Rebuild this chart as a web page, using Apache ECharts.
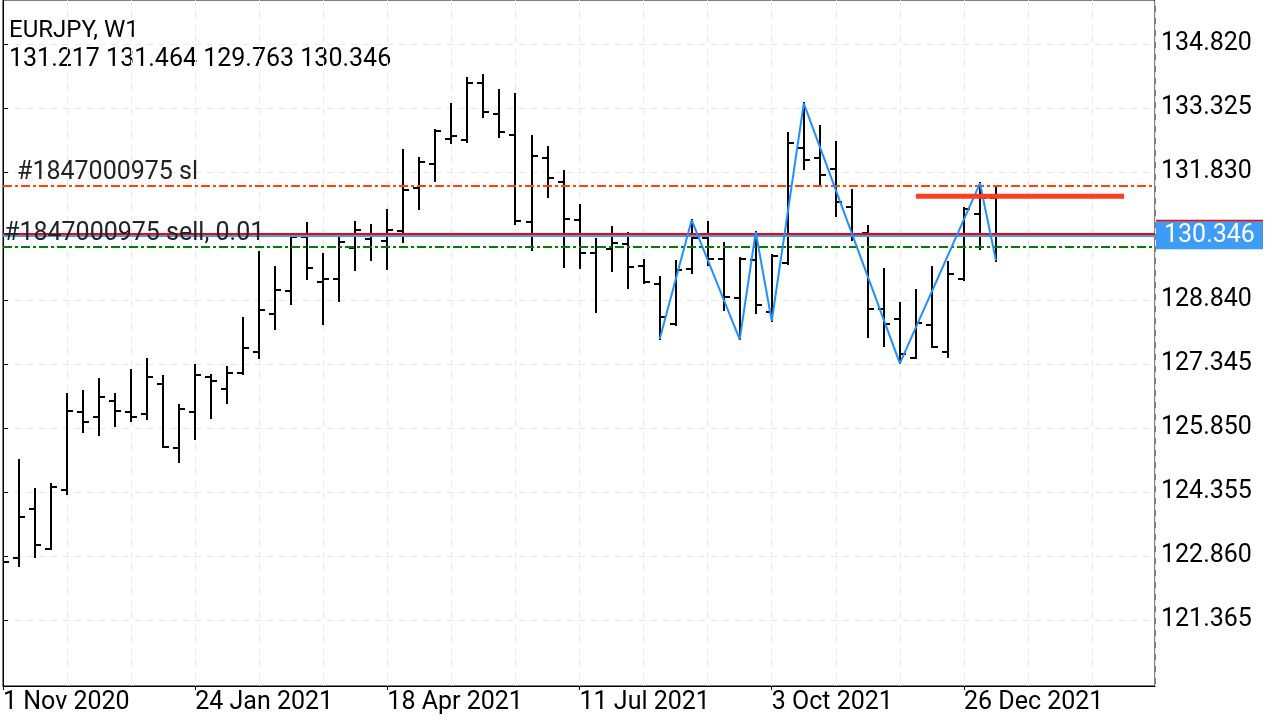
<!DOCTYPE html>
<html>
<head>
<meta charset="utf-8">
<title>EURJPY, W1</title>
<script src="https://cdn.jsdelivr.net/npm/echarts@6.0.0/dist/echarts.min.js"></script>
<style>
html,body{margin:0;padding:0;background:#fff;}
#chart{width:1280px;height:720px;}
</style>
</head>
<body>
<div id="chart"></div>
<script>
// weekly bars, index 0 = week of 1 Nov 2020
var opens  = [122.814,122.821,123.965,123.024,124.402,126.231,126.107,126.488,126.217,126.177,
              126.871,125.383,126.231,127.049,126.768,127.142,127.633,128.520,129.058,130.305,
              129.268,129.331,130.062,130.265,130.218,130.459,131.464,132.017,132.601,132.578,
              133.916,133.178,132.702,130.669,132.164,131.597,130.709,129.931,130.039,130.141,
              129.642,129.221,128.280,129.571,130.296,129.805,128.894,129.775,128.567,129.705,
              132.398,132.150,131.893,131.020,130.412,128.630,128.403,127.492,128.249,127.626,
              129.331,130.842,131.217];
var highs  = [122.930,125.103,124.418,124.535,126.645,126.715,126.995,126.645,127.205,127.455,
              127.065,126.388,127.322,127.095,127.268,128.413,129.962,129.604,130.319,130.632,
              129.915,130.282,130.655,130.592,130.943,132.344,132.150,132.804,133.419,134.019,
              134.096,133.746,133.652,132.671,132.407,131.854,131.048,130.258,130.538,130.398,
              129.775,129.385,129.751,130.709,130.655,130.165,129.814,130.429,129.903,132.734,
              133.435,132.905,132.531,131.410,130.569,129.564,128.763,129.074,129.618,129.721,
              130.989,131.566,131.464];
var lows   = [122.627,122.627,122.830,123.017,124.302,125.764,125.694,125.904,126.021,126.053,
              125.399,125.063,125.586,126.091,126.427,127.123,127.492,128.170,128.754,129.324,
              128.287,128.824,129.548,129.782,129.564,130.202,130.973,131.627,132.501,132.524,
              133.122,132.655,130.609,130.008,131.253,129.604,129.599,128.567,129.525,129.128,
              129.230,127.922,128.268,129.478,129.651,128.607,127.922,128.530,128.350,129.693,
              131.907,131.527,130.809,130.242,127.969,127.766,127.362,127.485,127.735,127.502,
              129.308,130.025,129.763];
var closes = [122.727,123.778,123.117,124.465,126.254,125.997,126.581,126.254,126.114,127.049,
              125.413,126.287,127.081,126.948,127.142,127.726,128.614,129.081,130.305,129.588,
              129.331,130.188,130.482,130.328,130.482,131.410,132.071,132.795,132.671,133.916,
              133.232,132.772,130.693,132.204,131.697,130.732,129.945,130.085,130.172,129.611,
              129.268,128.450,129.541,130.296,129.791,128.917,129.791,128.723,129.875,132.501,
              132.118,131.760,131.137,130.335,128.637,128.280,127.579,128.296,127.742,129.441,
              130.973,131.217,130.346];

// x labels every 12 weeks
var xLabels = ['1 Nov 2020','24 Jan 2021','18 Apr 2021','11 Jul 2021','3 Oct 2021','26 Dec 2021'];
var yTicks  = [121.365,122.860,124.355,125.850,127.345,128.840,130.335,131.830,133.325,134.820];
var yLabels = [121.365,122.860,124.355,125.850,127.345,128.840,131.830,133.325,134.820];

// zigzag pivots
var zigIdx = [41,43,46,47,48,50,56,61,62];
var zigVal = [127.922,130.709,127.922,130.429,128.350,133.435,127.362,131.566,129.763];

// order levels
var slPrice = 131.508;
var sellPrice = 130.394;
var bidPrice = 130.346;
var tpPrice = 130.085;
var boxPrice = 131.263, boxFrom = 57, boxTo = 70;

var header = ['EURJPY, W1', '131.217 131.464 129.763 130.346'];
var ticket = '#1847000975';

var FONT = 'Roboto';

var chart = echarts.init(document.getElementById('chart'));

var barData = [];
for (var i = 0; i < opens.length; i++) {
	barData.push([i, opens[i], highs[i], lows[i], closes[i]]);
}
var zigData = [];
for (var j = 0; j < zigIdx.length; j++) {
	zigData.push([zigIdx[j], zigVal[j]]);
}

function renderBar(params, api) {
	var i = api.value(0);
	var o = api.coord([i, api.value(1)]);
	var h = api.coord([i, api.value(2)]);
	var l = api.coord([i, api.value(3)]);
	var c = api.coord([i, api.value(4)]);
	var x = Math.round(h[0]);
	var st = {stroke: '#000', lineWidth: 2};
	return {
		type: 'group',
		children: [
			{type: 'line', shape: {x1: x, y1: Math.round(h[1]) - 1, x2: x, y2: Math.round(l[1]) + 1}, style: st},
			{type: 'line', shape: {x1: x - 6, y1: Math.round(o[1]), x2: x, y2: Math.round(o[1])}, style: st},
			{type: 'line', shape: {x1: x, y1: Math.round(c[1]), x2: x + 6, y2: Math.round(c[1])}, style: st}
		]
	};
}

function levelLine(val, color, width, type) {
	return {
		silent: true,
		symbol: ['none', 'none'],
		data: [{yAxis: val}],
		lineStyle: {color: color, width: width, type: type},
		label: {show: false}
	};
}

var dashDot = [9, 3, 3, 3];

var option = {
	animation: false,
	backgroundColor: '#fff',
	textStyle: {fontFamily: FONT},
	grid: {left: 2, right: 125, top: 0, bottom: 34, show: true, borderColor: '#000', borderWidth: 1, backgroundColor: 'transparent'},
	xAxis: [
		{
			type: 'value', min: 0, max: 71.93, interval: 12,
			axisLine: {show: true, lineStyle: {color: '#000', width: 1}},
			axisTick: {show: true, length: 4, lineStyle: {color: '#000'}},
			axisLabel: {
				show: true, align: 'left', margin: 4, fontSize: 25, color: '#000', fontFamily: FONT,
				showMaxLabel: false,
				formatter: function (v) {
					if (Math.abs(v % 12) < 1e-6) { return xLabels[Math.round(v / 12)] || ''; }
					return '';
				}
			},
			splitLine: {show: false}
		},
		{
			type: 'value', min: 0, max: 71.93, interval: 4, position: 'top',
			axisLine: {show: false}, axisTick: {show: false}, axisLabel: {show: false},
			splitLine: {show: true, lineStyle: {color: '#e8e8e8', width: 1, type: [6, 6]}}
		}
	],
	yAxis: {
		type: 'value', position: 'right', min: 119.824, max: 135.848, scale: true,
		axisLine: {show: true, lineStyle: {color: '#000'}},
		axisTick: {show: true, length: 5, customValues: yTicks, lineStyle: {color: '#000'}},
		axisLabel: {
			show: true, customValues: yLabels, margin: 6, fontSize: 25, color: '#000', fontFamily: FONT,
			formatter: function (v) { return v.toFixed(3); }
		},
		splitLine: {show: true, lineStyle: {color: '#e8e8e8', width: 1, type: [6, 6]}}
	},
	graphic: [
		{type: 'text', left: 9, top: 19, style: {text: header[0], font: '24px Roboto', fill: '#000'}},
		{type: 'text', left: 9, top: 47, style: {text: header[1], font: '25px Roboto', fill: '#000'}}
	],
	series: [
		{
			// order labels, drawn under the lines
			type: 'line', data: [], z: 1,
			markLine: {
				silent: true, symbol: ['none', 'none'],
				lineStyle: {color: 'rgba(0,0,0,0)', width: 1},
				data: [
					{yAxis: slPrice, label: {show: true, position: 'insideStartTop', formatter: ticket + ' sl', distance: [14, 0], color: '#222', fontSize: 25, fontFamily: FONT}},
					{yAxis: sellPrice, label: {show: true, position: 'insideStart', formatter: ticket + ' sell, 0.01', distance: [1, 0], color: '#222', fontSize: 25, fontFamily: FONT}}
				]
			}
		},
		{
			type: 'custom', z: 2,
			renderItem: renderBar,
			encode: {x: 0, y: [1, 2, 3, 4]},
			data: barData,
			clip: true
		},
		{type: 'line', data: [], z: 3, markLine: levelLine(slPrice, '#ff4500', 2, dashDot)},
		{type: 'line', data: [], z: 3, markLine: levelLine(tpPrice, '#008000', 2, dashDot)},
		{
			type: 'line', data: [], z: 4,
			markLine: {
				silent: true, symbol: ['none', 'none'],
				data: [{yAxis: sellPrice}],
				lineStyle: {color: '#ff0000', width: 2, type: 'solid'},
				label: {show: true, position: 'end', distance: 1, formatter: '130.394', color: '#ff0000', backgroundColor: '#ff0000', fontSize: 25, fontFamily: FONT, padding: [1, 8], lineHeight: 26}
			}
		},
		{
			type: 'line', data: [], z: 5,
			markLine: {
				silent: true, symbol: ['none', 'none'],
				data: [{yAxis: bidPrice}],
				lineStyle: {color: '#3d9cf5', width: 2, type: 'solid'},
				label: {show: true, position: 'end', distance: 1, formatter: bidPrice.toFixed(3), color: '#fff', backgroundColor: '#3d9cf5', fontSize: 25, fontFamily: FONT, padding: [1, 8], lineHeight: 26}
			}
		},
		{
			type: 'line', z: 6, data: zigData, symbol: 'none', silent: true,
			lineStyle: {color: '#1e90ff', width: 2}
		},
		{
			type: 'line', z: 6, data: [[boxFrom, boxPrice], [boxTo, boxPrice]], symbol: 'none', silent: true,
			lineStyle: {color: '#ff3d1f', width: 5}
		}
	]
};
chart.setOption(option);
</script>
</body>
</html>
